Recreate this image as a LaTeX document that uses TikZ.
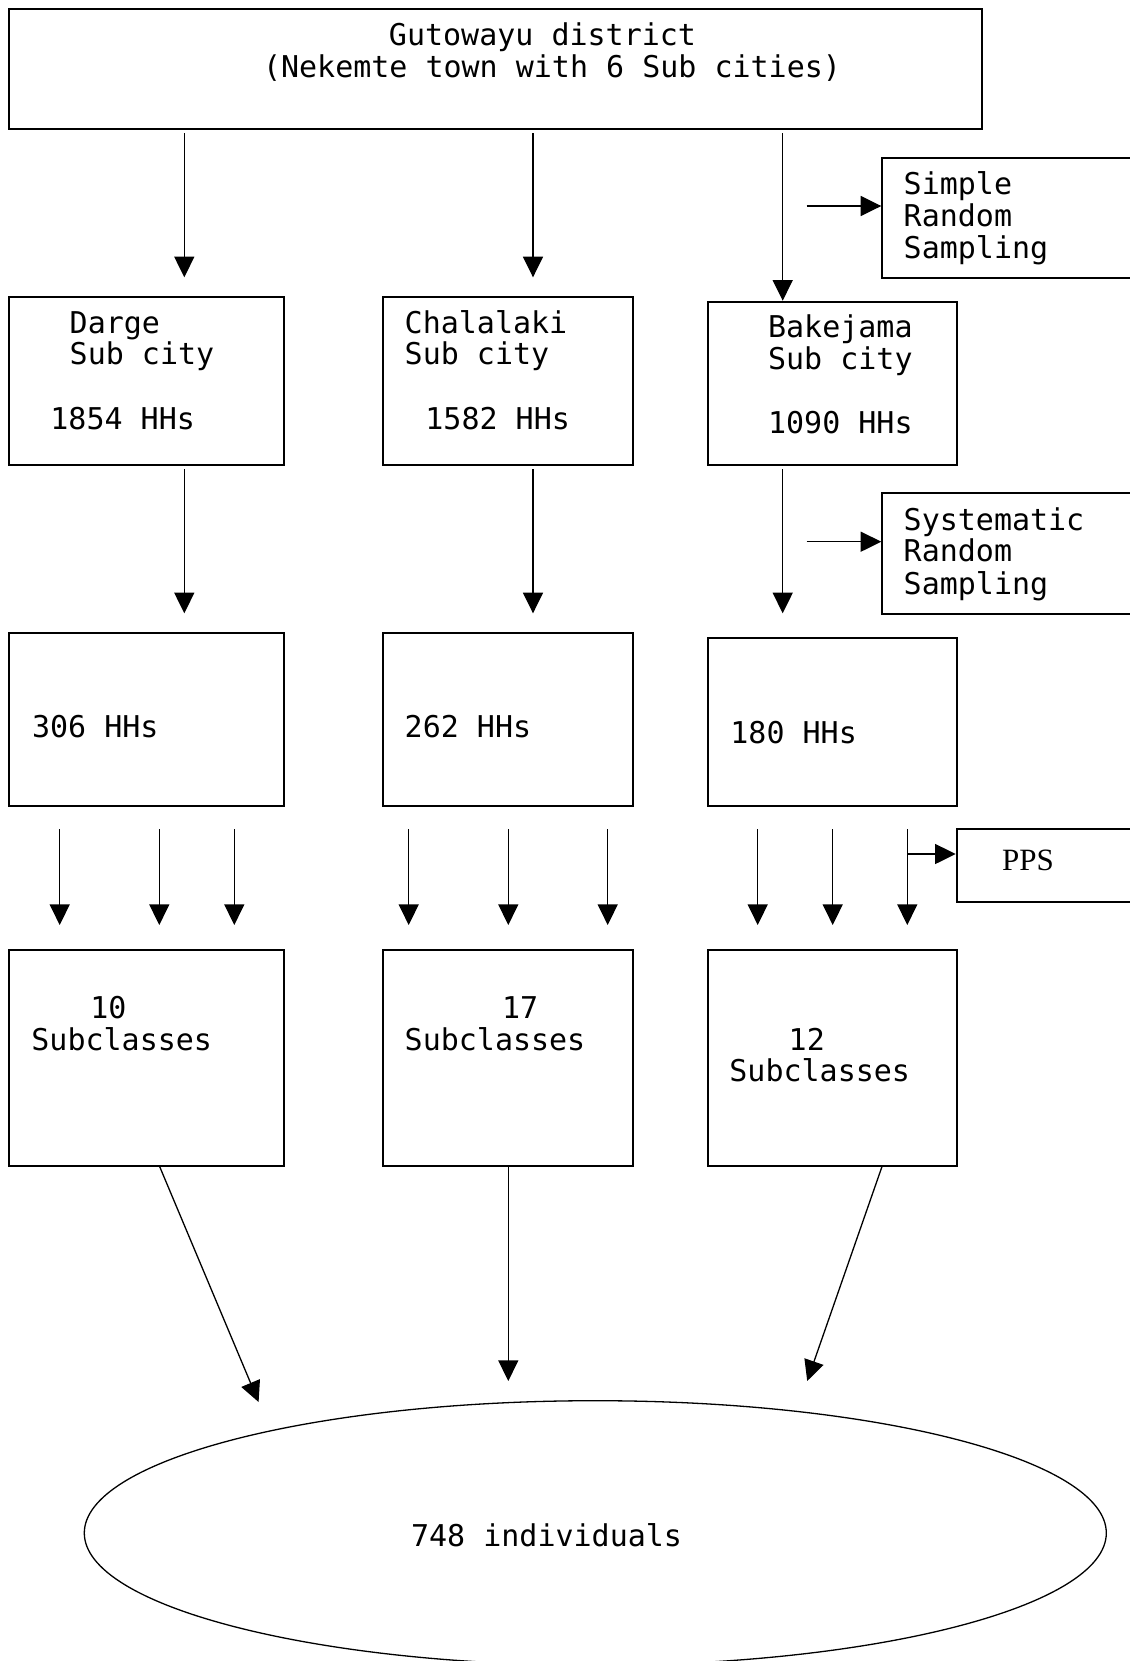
\documentclass[tikz,border=0pt]{standalone}
\usepackage{fontspec}
\setmonofont{DejaVu Sans Mono}
\newfontfamily\ppsfont{Liberation Serif}
\usetikzlibrary{arrows.meta,fit,shapes.geometric}
\tikzset{
  box/.style={draw, rectangle, line width=1pt, inner sep=0pt},
  arr/.style={line width=0.65pt, -{Triangle[length=10.3pt,width=10pt]}},
  txt/.style={inner sep=0pt, anchor=base west, font=\ttfamily\fontsize{15}{16}\selectfont},
  ctxt/.style={txt, anchor=base},
}
\begin{document}
\begin{tikzpicture}[x=0.5pt,y=-0.5pt]
\useasboundingbox (0,0) rectangle (1130,1661);
\clip (0,0) rectangle (1130,1661);
\fill[white] (0,0) rectangle (1130,1661);
% boxes
\node[box, fit={(9.3,9) (982.3,129)}] (top) {};
\node[box, fit={(882.3,157.7) (1140,277.7)}] (srs) {};
\node[box, fit={(9.3,296.7) (284.3,465)}] (darge) {};
\node[box, fit={(383.3,296.7) (633.3,465)}] (chal) {};
\node[box, fit={(707.7,301.7) (957.3,465)}] (bak) {};
\node[box, fit={(882.3,493.3) (1140,614)}] (sys) {};
\node[box, fit={(9.3,632.7) (284.3,806)}] (dthree) {};
\node[box, fit={(383.3,632.7) (633.3,806)}] (cthree) {};
\node[box, fit={(707.7,637.7) (957.3,806)}] (bthree) {};
\node[box, fit={(956.7,829.3) (1140,901.7)}] (pps) {};
\node[box, fit={(9.3,950) (284.3,1165.7)}] (dfour) {};
\node[box, fit={(383.3,950) (633.3,1165.7)}] (cfour) {};
\node[box, fit={(707.7,950) (957.3,1165.7)}] (bfour) {};
\node[draw, ellipse, line width=0.65pt, inner sep=0pt, minimum width=511pt, minimum height=132.3pt] (ind) at (595.3,1533) {};
% texts
\node[ctxt] (t1) at (542.5,45) {Gutowayu district};
\node[ctxt] (t2) at (552,77) {(Nekemte town with 6 Sub cities)};
\node[txt] (s1) at (903.3,194) {Simple};
\node[txt] (s2) at (903.3,226) {Random};
\node[txt] (s3) at (903.3,258.3) {Sampling};
\node[txt] (d1) at (69.3,333.3) {Darge};
\node[txt] (d2) at (69.3,364) {Sub city};
\node[txt] (d3) at (50,429) {1854 HHs};
\node[txt] (c1) at (404.3,333.3) {Chalalaki};
\node[txt] (c2) at (404.3,364) {Sub city};
\node[txt] (c3) at (425,429) {1582 HHs};
\node[txt] (b1) at (767.7,337.7) {Bakejama};
\node[txt] (b2) at (767.7,369.3) {Sub city};
\node[txt] (b3) at (767.7,433.3) {1090 HHs};
\node[txt] (y1) at (903.3,530) {Systematic};
\node[txt] (y2) at (903.3,561.7) {Random};
\node[txt] (y3) at (903.3,594.3) {Sampling};
\node[txt] (h1) at (31.7,737.7) {306 HHs};
\node[txt] (h2) at (404.3,737.7) {262 HHs};
\node[txt] (h3) at (730,743.3) {180 HHs};
\node[inner sep=0pt, anchor=base west, font=\ppsfont\fontsize{15.5}{17}\selectfont] (p1) at (1001.7,870.7) {PPS};
\node[txt] (n1) at (90,1018.3) {10};
\node[txt] (n2) at (31,1050) {Subclasses};
\node[txt] (n3) at (501.7,1018.3) {17};
\node[txt] (n4) at (404.3,1050) {Subclasses};
\node[txt] (n5) at (788.3,1050) {12};
\node[txt] (n6) at (729,1081.7) {Subclasses};
\node[txt] (i1) at (410.7,1546) {748 individuals};
% arrow coordinates
\coordinate (ta) at (184.3,133);
\coordinate (tb) at (533,133);
\coordinate (tc) at (782.7,133);
\coordinate (ma) at (184.3,469.3);
\coordinate (mb) at (533,469.3);
\coordinate (mc) at (782.7,469.3);
\coordinate (hs) at (806.7,206);
\coordinate (hy) at (806.7,541.7);
\coordinate (hp) at (907.3,854);
% top to row 2
\draw[arr] (ta) -- (184.3,277.3) coordinate (ea);
\draw[arr] (tb) -- (533,277.3) coordinate (eb);
\draw[arr] (tc) -- (tc |- bak.north);
\draw[arr] (hs) -- (hs -| srs.west);
% row 2 to row 3
\draw[arr] (ma) -- (184.3,613.3) coordinate (fa);
\draw[arr] (mb) -- (533,613.3) coordinate (fb);
\draw[arr] (mc) -- (782.7,613.3) coordinate (fc);
\draw[arr] (hy) -- (hy -| sys.west);
% row 3 to row 4
\foreach \x [count=\i] in {59.7,159.3,234.3,408.7,508.3,607.7,757.7,832.7,907.3}{
  \coordinate (ss\i) at (\x,829);
  \coordinate (se\i) at (\x,925);
  \draw[arr] (ss\i) -- (se\i);
}
\draw[line width=0.65pt, -{Triangle[length=10.3pt,width=10pt]}] (hp) -- (hp -| pps.west);
% row 4 to ellipse
\coordinate (ba) at (159.3,1165.7);
\coordinate (bb) at (508.3,1165.7);
\coordinate (bc) at (882.3,1165.7);
\coordinate (ga) at (258.6,1402);
\coordinate (gb) at (508.3,1381);
\coordinate (gc) at (807.2,1381);
\draw[arr] (ba) -- (ga);
\draw[arr] (bb) -- (gb);
\draw[arr] (bc) -- (gc);
\end{tikzpicture}
\end{document}
